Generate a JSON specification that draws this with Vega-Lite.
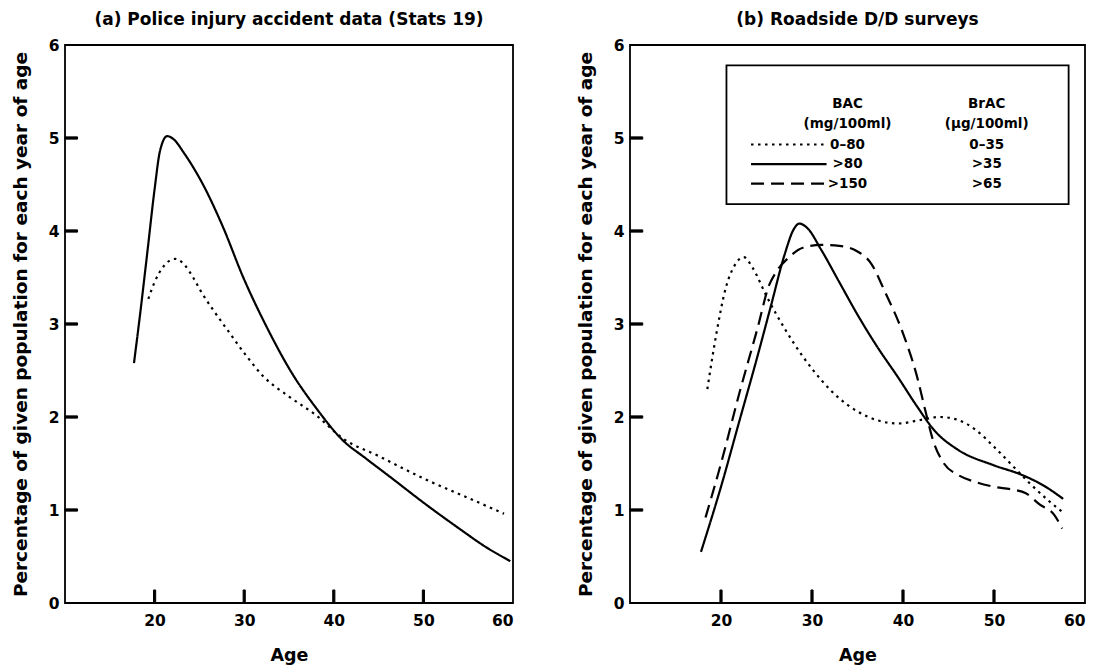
{
  "$schema": "https://vega.github.io/schema/vega-lite/v6.json",
  "background": "white",
  "padding": {"left": 10, "top": 10, "right": 10, "bottom": 0},
  "spacing": 59,
  "datasets": {
    "curves": [
      {"p": "a", "s": "solid", "age": 17.7, "v": 2.58},
      {"p": "a", "s": "solid", "age": 18.5, "v": 3.2},
      {"p": "a", "s": "solid", "age": 19.2, "v": 3.78},
      {"p": "a", "s": "solid", "age": 20.0, "v": 4.45},
      {"p": "a", "s": "solid", "age": 20.6, "v": 4.86},
      {"p": "a", "s": "solid", "age": 21.4, "v": 5.02},
      {"p": "a", "s": "solid", "age": 22.2, "v": 4.98},
      {"p": "a", "s": "solid", "age": 23.2, "v": 4.85},
      {"p": "a", "s": "solid", "age": 25.4, "v": 4.5},
      {"p": "a", "s": "solid", "age": 27.6, "v": 4.05},
      {"p": "a", "s": "solid", "age": 29.9, "v": 3.5},
      {"p": "a", "s": "solid", "age": 32.5, "v": 2.97},
      {"p": "a", "s": "solid", "age": 35.4, "v": 2.46},
      {"p": "a", "s": "solid", "age": 38.0, "v": 2.1},
      {"p": "a", "s": "solid", "age": 41.0, "v": 1.75},
      {"p": "a", "s": "solid", "age": 43.5, "v": 1.56},
      {"p": "a", "s": "solid", "age": 46.5, "v": 1.34},
      {"p": "a", "s": "solid", "age": 50.0, "v": 1.08},
      {"p": "a", "s": "solid", "age": 54.0, "v": 0.8},
      {"p": "a", "s": "solid", "age": 57.0, "v": 0.6},
      {"p": "a", "s": "solid", "age": 59.7, "v": 0.45},
      {"p": "a", "s": "dotted", "age": 19.3, "v": 3.27},
      {"p": "a", "s": "dotted", "age": 20.0, "v": 3.45},
      {"p": "a", "s": "dotted", "age": 21.0, "v": 3.62},
      {"p": "a", "s": "dotted", "age": 22.3, "v": 3.7},
      {"p": "a", "s": "dotted", "age": 23.3, "v": 3.64},
      {"p": "a", "s": "dotted", "age": 24.3, "v": 3.5},
      {"p": "a", "s": "dotted", "age": 25.3, "v": 3.33},
      {"p": "a", "s": "dotted", "age": 26.4, "v": 3.17},
      {"p": "a", "s": "dotted", "age": 28.1, "v": 2.94},
      {"p": "a", "s": "dotted", "age": 30.3, "v": 2.65},
      {"p": "a", "s": "dotted", "age": 32.1, "v": 2.44},
      {"p": "a", "s": "dotted", "age": 35.0, "v": 2.22},
      {"p": "a", "s": "dotted", "age": 38.0, "v": 2.02},
      {"p": "a", "s": "dotted", "age": 41.0, "v": 1.77},
      {"p": "a", "s": "dotted", "age": 45.0, "v": 1.58},
      {"p": "a", "s": "dotted", "age": 50.0, "v": 1.34},
      {"p": "a", "s": "dotted", "age": 55.0, "v": 1.13},
      {"p": "a", "s": "dotted", "age": 59.0, "v": 0.96},
      {"p": "b", "s": "solid", "age": 17.8, "v": 0.55},
      {"p": "b", "s": "solid", "age": 20.0, "v": 1.25},
      {"p": "b", "s": "solid", "age": 22.0, "v": 1.95},
      {"p": "b", "s": "solid", "age": 24.0, "v": 2.65},
      {"p": "b", "s": "solid", "age": 25.5, "v": 3.2},
      {"p": "b", "s": "solid", "age": 27.0, "v": 3.75},
      {"p": "b", "s": "solid", "age": 28.0, "v": 4.02},
      {"p": "b", "s": "solid", "age": 28.6, "v": 4.08},
      {"p": "b", "s": "solid", "age": 29.5, "v": 4.03},
      {"p": "b", "s": "solid", "age": 31.0, "v": 3.8},
      {"p": "b", "s": "solid", "age": 33.0, "v": 3.45},
      {"p": "b", "s": "solid", "age": 35.0, "v": 3.1},
      {"p": "b", "s": "solid", "age": 37.0, "v": 2.78},
      {"p": "b", "s": "solid", "age": 39.5, "v": 2.42},
      {"p": "b", "s": "solid", "age": 41.5, "v": 2.12},
      {"p": "b", "s": "solid", "age": 43.5, "v": 1.85},
      {"p": "b", "s": "solid", "age": 46.0, "v": 1.65},
      {"p": "b", "s": "solid", "age": 50.0, "v": 1.48},
      {"p": "b", "s": "solid", "age": 53.0, "v": 1.38},
      {"p": "b", "s": "solid", "age": 55.5, "v": 1.26},
      {"p": "b", "s": "solid", "age": 57.6, "v": 1.12},
      {"p": "b", "s": "dashed", "age": 18.3, "v": 0.92},
      {"p": "b", "s": "dashed", "age": 20.0, "v": 1.5},
      {"p": "b", "s": "dashed", "age": 22.0, "v": 2.25},
      {"p": "b", "s": "dashed", "age": 24.0, "v": 2.95},
      {"p": "b", "s": "dashed", "age": 25.3, "v": 3.42},
      {"p": "b", "s": "dashed", "age": 26.0, "v": 3.55},
      {"p": "b", "s": "dashed", "age": 27.5, "v": 3.72},
      {"p": "b", "s": "dashed", "age": 29.0, "v": 3.82},
      {"p": "b", "s": "dashed", "age": 31.0, "v": 3.85},
      {"p": "b", "s": "dashed", "age": 33.0, "v": 3.84},
      {"p": "b", "s": "dashed", "age": 35.0, "v": 3.78},
      {"p": "b", "s": "dashed", "age": 36.5, "v": 3.65},
      {"p": "b", "s": "dashed", "age": 38.0, "v": 3.35},
      {"p": "b", "s": "dashed", "age": 40.0, "v": 2.9},
      {"p": "b", "s": "dashed", "age": 41.5, "v": 2.45},
      {"p": "b", "s": "dashed", "age": 42.5, "v": 2.05},
      {"p": "b", "s": "dashed", "age": 43.3, "v": 1.75},
      {"p": "b", "s": "dashed", "age": 44.5, "v": 1.5},
      {"p": "b", "s": "dashed", "age": 46.0, "v": 1.38},
      {"p": "b", "s": "dashed", "age": 48.0, "v": 1.3},
      {"p": "b", "s": "dashed", "age": 50.0, "v": 1.25},
      {"p": "b", "s": "dashed", "age": 52.0, "v": 1.22},
      {"p": "b", "s": "dashed", "age": 53.5, "v": 1.18},
      {"p": "b", "s": "dashed", "age": 55.0, "v": 1.06},
      {"p": "b", "s": "dashed", "age": 56.6, "v": 0.95},
      {"p": "b", "s": "dashed", "age": 57.5, "v": 0.8},
      {"p": "b", "s": "dotted", "age": 18.5, "v": 2.3},
      {"p": "b", "s": "dotted", "age": 19.5, "v": 2.9},
      {"p": "b", "s": "dotted", "age": 20.5, "v": 3.38},
      {"p": "b", "s": "dotted", "age": 21.5, "v": 3.63},
      {"p": "b", "s": "dotted", "age": 22.5, "v": 3.72},
      {"p": "b", "s": "dotted", "age": 23.5, "v": 3.6},
      {"p": "b", "s": "dotted", "age": 25.0, "v": 3.3},
      {"p": "b", "s": "dotted", "age": 27.0, "v": 2.95},
      {"p": "b", "s": "dotted", "age": 29.0, "v": 2.65},
      {"p": "b", "s": "dotted", "age": 31.0, "v": 2.4},
      {"p": "b", "s": "dotted", "age": 33.0, "v": 2.2},
      {"p": "b", "s": "dotted", "age": 35.0, "v": 2.06},
      {"p": "b", "s": "dotted", "age": 37.0, "v": 1.97},
      {"p": "b", "s": "dotted", "age": 39.5, "v": 1.93},
      {"p": "b", "s": "dotted", "age": 42.0, "v": 1.97},
      {"p": "b", "s": "dotted", "age": 44.0, "v": 2.0},
      {"p": "b", "s": "dotted", "age": 46.0, "v": 1.97},
      {"p": "b", "s": "dotted", "age": 48.0, "v": 1.86},
      {"p": "b", "s": "dotted", "age": 50.0, "v": 1.68},
      {"p": "b", "s": "dotted", "age": 52.0, "v": 1.48},
      {"p": "b", "s": "dotted", "age": 54.0, "v": 1.28},
      {"p": "b", "s": "dotted", "age": 56.0, "v": 1.1},
      {"p": "b", "s": "dotted", "age": 57.5, "v": 0.98}
    ],
    "ticks": [
      {"x1": 19.88, "x2": 20.12, "y1": 0, "y2": 0.14},
      {"x1": 29.88, "x2": 30.12, "y1": 0, "y2": 0.14},
      {"x1": 39.88, "x2": 40.12, "y1": 0, "y2": 0.14},
      {"x1": 49.88, "x2": 50.12, "y1": 0, "y2": 0.14},
      {"x1": 10, "x2": 11.4, "y1": 0.988, "y2": 1.012},
      {"x1": 10, "x2": 11.4, "y1": 1.988, "y2": 2.012},
      {"x1": 10, "x2": 11.4, "y1": 2.988, "y2": 3.012},
      {"x1": 10, "x2": 11.4, "y1": 3.988, "y2": 4.012},
      {"x1": 10, "x2": 11.4, "y1": 4.988, "y2": 5.012}
    ],
    "legbox": [{"x1": 20.6, "x2": 58.2, "y1": 4.29, "y2": 5.78}],
    "leglines": [
      {"s": "dotted", "age": 23.3, "v": 4.93},
      {"s": "dotted", "age": 31.6, "v": 4.93},
      {"s": "solid", "age": 23.3, "v": 4.72},
      {"s": "solid", "age": 31.6, "v": 4.72},
      {"s": "dashed", "age": 23.3, "v": 4.51},
      {"s": "dashed", "age": 31.6, "v": 4.51}
    ],
    "legtext": [
      {"age": 33.9, "v": 5.37, "t": "BAC"},
      {"age": 33.9, "v": 5.15, "t": "(mg/100ml)"},
      {"age": 33.9, "v": 4.93, "t": "0–80"},
      {"age": 33.9, "v": 4.72, "t": ">80"},
      {"age": 33.9, "v": 4.51, "t": ">150"},
      {"age": 49.2, "v": 5.37, "t": "BrAC"},
      {"age": 49.2, "v": 5.15, "t": "(µg/100ml)"},
      {"age": 49.2, "v": 4.93, "t": "0–35"},
      {"age": 49.2, "v": 4.72, "t": ">35"},
      {"age": 49.2, "v": 4.51, "t": ">65"}
    ]
  },
  "hconcat": [
    {
      "width": 448,
      "height": 558,
      "title": {"text": "(a) Police injury accident data (Stats 19)", "fontSize": 17, "fontWeight": "bold", "font": "DejaVu Sans", "offset": 9, "color": "black"},
      "encoding": {
        "x": {"type": "quantitative", "scale": {"domain": [10, 60], "nice": false, "zero": false}, "axis": {"values": [20, 30, 40, 50, 60], "title": "Age"}},
        "y": {"type": "quantitative", "scale": {"domain": [0, 6], "nice": false}, "axis": {"values": [0, 1, 2, 3, 4, 5, 6], "title": "Percentage of given population for each year of age"}}
      },
      "layer": [
        {
          "data": {"name": "curves"},
          "transform": [{"filter": "datum.p === 'a'"}],
          "mark": {"type": "line", "interpolate": "monotone", "color": "black", "strokeWidth": 2.2},
          "encoding": {
            "x": {"field": "age", "type": "quantitative"},
            "y": {"field": "v", "type": "quantitative"},
            "strokeDash": {"field": "s", "type": "nominal", "scale": {"domain": ["dotted", "solid", "dashed"], "range": [[2.5, 4.5], [1, 0], [13, 7]]}, "legend": null},
            "detail": {"field": "s"}
          }
        },
        {
          "data": {"name": "ticks"},
          "mark": {"type": "rect", "fill": "black", "stroke": "black", "strokeWidth": 1},
          "encoding": {
            "x": {"field": "x1", "type": "quantitative"},
            "x2": {"field": "x2"},
            "y": {"field": "y1", "type": "quantitative"},
            "y2": {"field": "y2"}
          }
        }
      ]
    },
    {
      "width": 455,
      "height": 558,
      "title": {"text": "(b) Roadside D/D surveys", "fontSize": 17, "fontWeight": "bold", "font": "DejaVu Sans", "offset": 9, "color": "black"},
      "encoding": {
        "x": {"type": "quantitative", "scale": {"domain": [10, 60], "nice": false, "zero": false}, "axis": {"values": [20, 30, 40, 50, 60], "title": "Age"}},
        "y": {"type": "quantitative", "scale": {"domain": [0, 6], "nice": false}, "axis": {"values": [0, 1, 2, 3, 4, 5, 6], "title": "Percentage of given population for each year of age"}}
      },
      "layer": [
        {
          "data": {"name": "curves"},
          "transform": [{"filter": "datum.p === 'b'"}],
          "mark": {"type": "line", "interpolate": "monotone", "color": "black", "strokeWidth": 2.2},
          "encoding": {
            "x": {"field": "age", "type": "quantitative"},
            "y": {"field": "v", "type": "quantitative"},
            "strokeDash": {"field": "s", "type": "nominal", "scale": {"domain": ["dotted", "solid", "dashed"], "range": [[2.5, 4.5], [1, 0], [13, 7]]}, "legend": null},
            "detail": {"field": "s"}
          }
        },
        {
          "data": {"name": "ticks"},
          "mark": {"type": "rect", "fill": "black", "stroke": "black", "strokeWidth": 1},
          "encoding": {
            "x": {"field": "x1", "type": "quantitative"},
            "x2": {"field": "x2"},
            "y": {"field": "y1", "type": "quantitative"},
            "y2": {"field": "y2"}
          }
        },
        {
          "data": {"name": "legbox"},
          "mark": {"type": "rect", "fill": "white", "stroke": "black", "strokeWidth": 1.8},
          "encoding": {
            "x": {"field": "x1", "type": "quantitative"},
            "x2": {"field": "x2"},
            "y": {"field": "y1", "type": "quantitative"},
            "y2": {"field": "y2"}
          }
        },
        {
          "data": {"name": "leglines"},
          "mark": {"type": "line", "color": "black", "strokeWidth": 2.2},
          "encoding": {
            "x": {"field": "age", "type": "quantitative"},
            "y": {"field": "v", "type": "quantitative"},
            "strokeDash": {"field": "s", "type": "nominal", "scale": {"domain": ["dotted", "solid", "dashed"], "range": [[2.5, 4.5], [1, 0], [13, 7]]}, "legend": null},
            "detail": {"field": "s"}
          }
        },
        {
          "data": {"name": "legtext"},
          "mark": {"type": "text", "font": "DejaVu Sans", "fontWeight": "bold", "fontSize": 13.5, "color": "black", "align": "center", "baseline": "middle"},
          "encoding": {
            "x": {"field": "age", "type": "quantitative"},
            "y": {"field": "v", "type": "quantitative"},
            "text": {"field": "t"}
          }
        }
      ]
    }
  ],
  "config": {
    "font": "DejaVu Sans",
    "view": {"stroke": "black", "strokeWidth": 1.8},
    "axis": {
      "domain": false,
      "grid": false,
      "ticks": false,
      "labelFont": "DejaVu Sans",
      "labelFontWeight": "bold",
      "labelFontSize": 15.5,
      "labelColor": "black",
      "titleFont": "DejaVu Sans",
      "titleFontWeight": "bold",
      "titleColor": "black"
    },
    "axisX": {"titleFontSize": 17.5, "titlePadding": 18, "labelPadding": 10},
    "axisY": {"titleFontSize": 18.5, "titlePadding": 18, "labelPadding": 6}
  }
}
